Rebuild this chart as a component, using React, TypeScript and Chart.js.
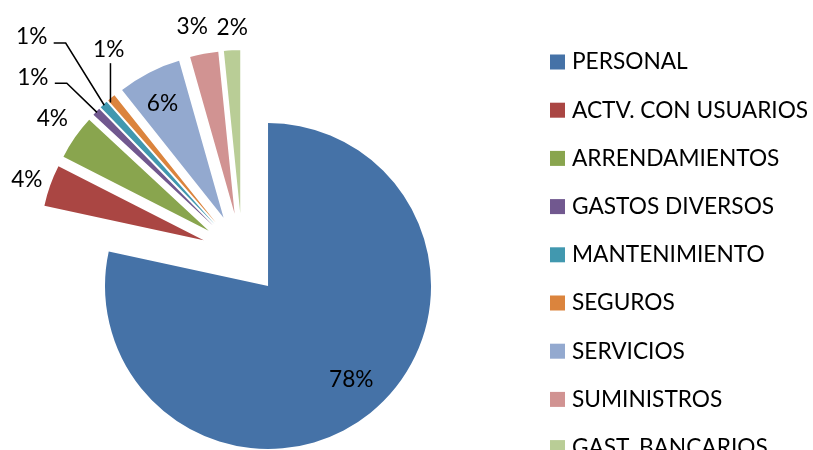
import React, { useEffect, useRef } from "react";
import { Chart, registerables } from "chart.js";

Chart.register(...registerables);

const categories = [
  "PERSONAL",
  "ACTV. CON USUARIOS",
  "ARRENDAMIENTOS",
  "GASTOS DIVERSOS",
  "MANTENIMIENTO",
  "SEGUROS",
  "SERVICIOS",
  "SUMINISTROS",
  "GAST. BANCARIOS",
];
const shares = [78.4, 4.1, 4.4, 0.8, 0.8, 0.8, 6.3, 2.8, 1.6];
const colors = [
  "#4572A7",
  "#AA4643",
  "#89A54E",
  "#71588F",
  "#4198AF",
  "#DB843D",
  "#93A9CF",
  "#D19392",
  "#B9CD96",
];

const FONT = "22.7px Lato";
const EXPLODE = 41;
const RADIUS = 163;

// label placement per slice: radial factor, angle delta (deg), leader style
const labelSpec: { f: number; da: number; leader?: "h" | "v" }[] = [
  { f: 0.77, da: -2.65 },
  { f: 1.147, da: -0.7 },
  { f: 1.18, da: 0.7 },
  { f: 1.431, da: -4.84, leader: "h" },
  { f: 1.604, da: -1.5, leader: "h" },
  { f: 1.246, da: 8.1, leader: "v" },
  { f: 0.795, da: -0.95 },
  { f: 1.177, da: -1.95 },
  { f: 1.141, da: 0.4 },
];

const explodePlugin = {
  id: "explode",
  beforeDatasetDraw(chart: any, args: any) {
    const meta = chart.getDatasetMeta(args.index);
    const ctx = chart.ctx;
    meta.data.forEach((arc: any) => {
      const mid = (arc.startAngle + arc.endAngle) / 2;
      ctx.save();
      ctx.translate(Math.cos(mid) * EXPLODE, Math.sin(mid) * EXPLODE);
      arc.draw(ctx);
      ctx.restore();
    });
    return false;
  },
  afterDraw(chart: any) {
    const ctx = chart.ctx;
    const meta = chart.getDatasetMeta(0);
    const ds = chart.data.datasets[0];
    const total = (ds.data as number[]).reduce((a, b) => a + b, 0);
    ctx.save();
    ctx.font = FONT;
    ctx.fillStyle = "#000";
    ctx.strokeStyle = "#000";
    ctx.lineWidth = 1.5;
    meta.data.forEach((arc: any, i: number) => {
      const mid = (arc.startAngle + arc.endAngle) / 2;
      const vx = arc.x + Math.cos(mid) * EXPLODE;
      const vy = arc.y + Math.sin(mid) * EXPLODE;
      const spec = labelSpec[i];
      const la = mid + (spec.da * Math.PI) / 180;
      const lx = vx + Math.cos(la) * arc.outerRadius * spec.f;
      const ly = vy + Math.sin(la) * arc.outerRadius * spec.f;
      const ox = vx + Math.cos(mid) * (arc.outerRadius - 1);
      const oy = vy + Math.sin(mid) * (arc.outerRadius - 1);
      const txt = Math.round(((ds.data[i] as number) / total) * 100) + "%";
      if (spec.leader === "h") {
        ctx.beginPath();
        ctx.moveTo(lx + 22, ly + 6);
        ctx.lineTo(lx + 34, ly + 6);
        ctx.lineTo(ox, oy);
        ctx.stroke();
      } else if (spec.leader === "v") {
        ctx.beginPath();
        ctx.moveTo(lx + 1.7, ly + 13);
        ctx.lineTo(lx + 1.7, oy + 4);
        ctx.stroke();
      }
      ctx.textAlign = "center";
      ctx.textBaseline = "middle";
      ctx.fillText(txt, lx, ly);
    });
    // legend
    const labels = chart.data.labels as string[];
    labels.forEach((lab: string, i: number) => {
      const cy = 62 + i * 48.2;
      ctx.fillStyle = (ds.backgroundColor as string[])[i];
      ctx.fillRect(550, cy - 7.5, 15, 15);
      ctx.fillStyle = "#000";
      ctx.textAlign = "left";
      ctx.textBaseline = "middle";
      ctx.fillText(lab, 572, cy);
    });
    ctx.restore();
  },
};

export default function App() {
  const ref = useRef<HTMLCanvasElement | null>(null);
  useEffect(() => {
    if (!ref.current) return;
    const chart = new Chart(ref.current, {
      type: "pie",
      data: {
        labels: categories,
        datasets: [
          {
            data: shares,
            backgroundColor: colors,
            borderWidth: 0,
          },
        ],
      },
      options: {
        animation: false,
        responsive: false,
        devicePixelRatio: 1,
        radius: RADIUS,
        layout: { padding: { left: 0, right: 328.4, top: 58.2, bottom: 0 } },
        plugins: {
          legend: { display: false },
          tooltip: { enabled: false },
          title: { display: false },
        },
      } as any,
      plugins: [explodePlugin as any],
    });
    return () => chart.destroy();
  }, []);
  return (
    <div style={{ position: "fixed", left: 0, top: 0, width: 813, height: 450, background: "#fff", overflow: "hidden" }}>
      <canvas ref={ref} width={813} height={450} style={{ width: 813, height: 450, display: "block" }} />
    </div>
  );
}
